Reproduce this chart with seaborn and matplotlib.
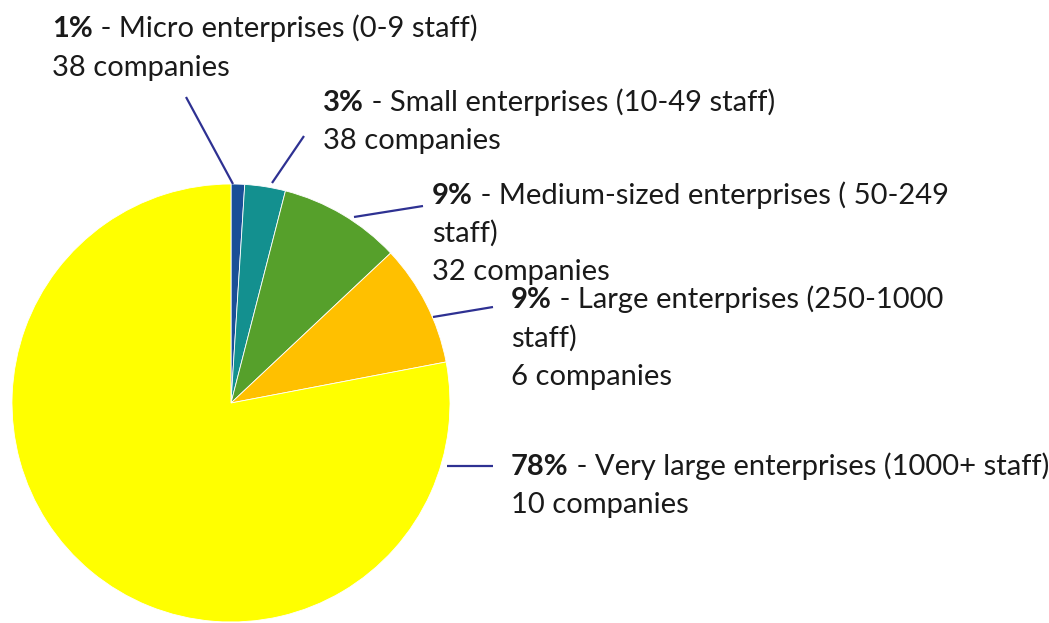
import matplotlib
matplotlib.use("Agg")
import matplotlib.pyplot as plt
import seaborn as sns

sns.set_style("white")
plt.rcParams["font.family"] = ["Lato", "DejaVu Sans"]

# Share of companies by enterprise size
categories = [
    "Micro enterprises (0-9 staff)",
    "Small enterprises (10-49 staff)",
    "Medium-sized enterprises ( 50-249 staff)",
    "Large enterprises (250-1000 staff)",
    "Very large enterprises (1000+ staff)",
]
shares = [1, 3, 9, 9, 78]
companies = [38, 38, 32, 6, 10]
colors = ["#1A4F97", "#13908F", "#56A02B", "#FFC000", "#FFFF00"]

# Label text split into lines: first line gets the bold percentage prefix
label_lines = [
    ["Micro enterprises (0-9 staff)"],
    ["Small enterprises (10-49 staff)"],
    ["Medium-sized enterprises ( 50-249", "staff)"],
    ["Large enterprises (250-1000", "staff)"],
    ["Very large enterprises (1000+ staff)"],
]

# Layout in pixel units (origin top-left)
W, H = 1049, 623
pie_center = (231, 403)
pie_radius = 219
label_x = [52, 323, 432, 511, 511]
label_top_baseline = [37, 111, 204, 308, 475]
line_step = [39, 38, 38, 38.5, 38.5]
leader_start = [(233, 184), (272, 183), (354, 217), (433, 317), (447, 466)]
leader_end = [(186, 97), (304, 136), (423, 206), (493, 307), (493, 466)]

fig = plt.figure(figsize=(W / 100, H / 100), dpi=100)
ax = fig.add_axes([0, 0, 1, 1])

# y axis runs downward, so start at -90 and go counter-clockwise in data
# coordinates to get clockwise-from-top slices on screen
ax.pie(shares, colors=colors, startangle=-90, counterclock=True,
       center=pie_center, radius=pie_radius,
       wedgeprops=dict(linewidth=0.6, edgecolor="white"), frame=True)
ax.set_xlim(0, W)
ax.set_ylim(H, 0)
ax.axis("off")

text_color = "#1a1a1a"
fs = 21
for i in range(len(shares)):
    (x0, y0), (x1, y1) = leader_start[i], leader_end[i]
    ax.plot([x0, x1], [y0, y1], color="#2E3192", lw=1.6, solid_capstyle="butt")

    y = label_top_baseline[i]
    pct = ax.text(label_x[i], y, f"{shares[i]}%", fontsize=fs, fontweight="bold",
                  color=text_color, va="baseline", ha="left")
    ax.annotate(f" - {label_lines[i][0]}", xy=(1, 0), xycoords=pct,
                va="bottom", ha="left", fontsize=fs, color=text_color)
    extra = label_lines[i][1:] + [f"{companies[i]} companies"]
    for k, line in enumerate(extra, start=1):
        ax.text(label_x[i], y + k * line_step[i], line, fontsize=fs,
                color=text_color, va="baseline", ha="left")

fig.savefig("out.png", dpi=100)
